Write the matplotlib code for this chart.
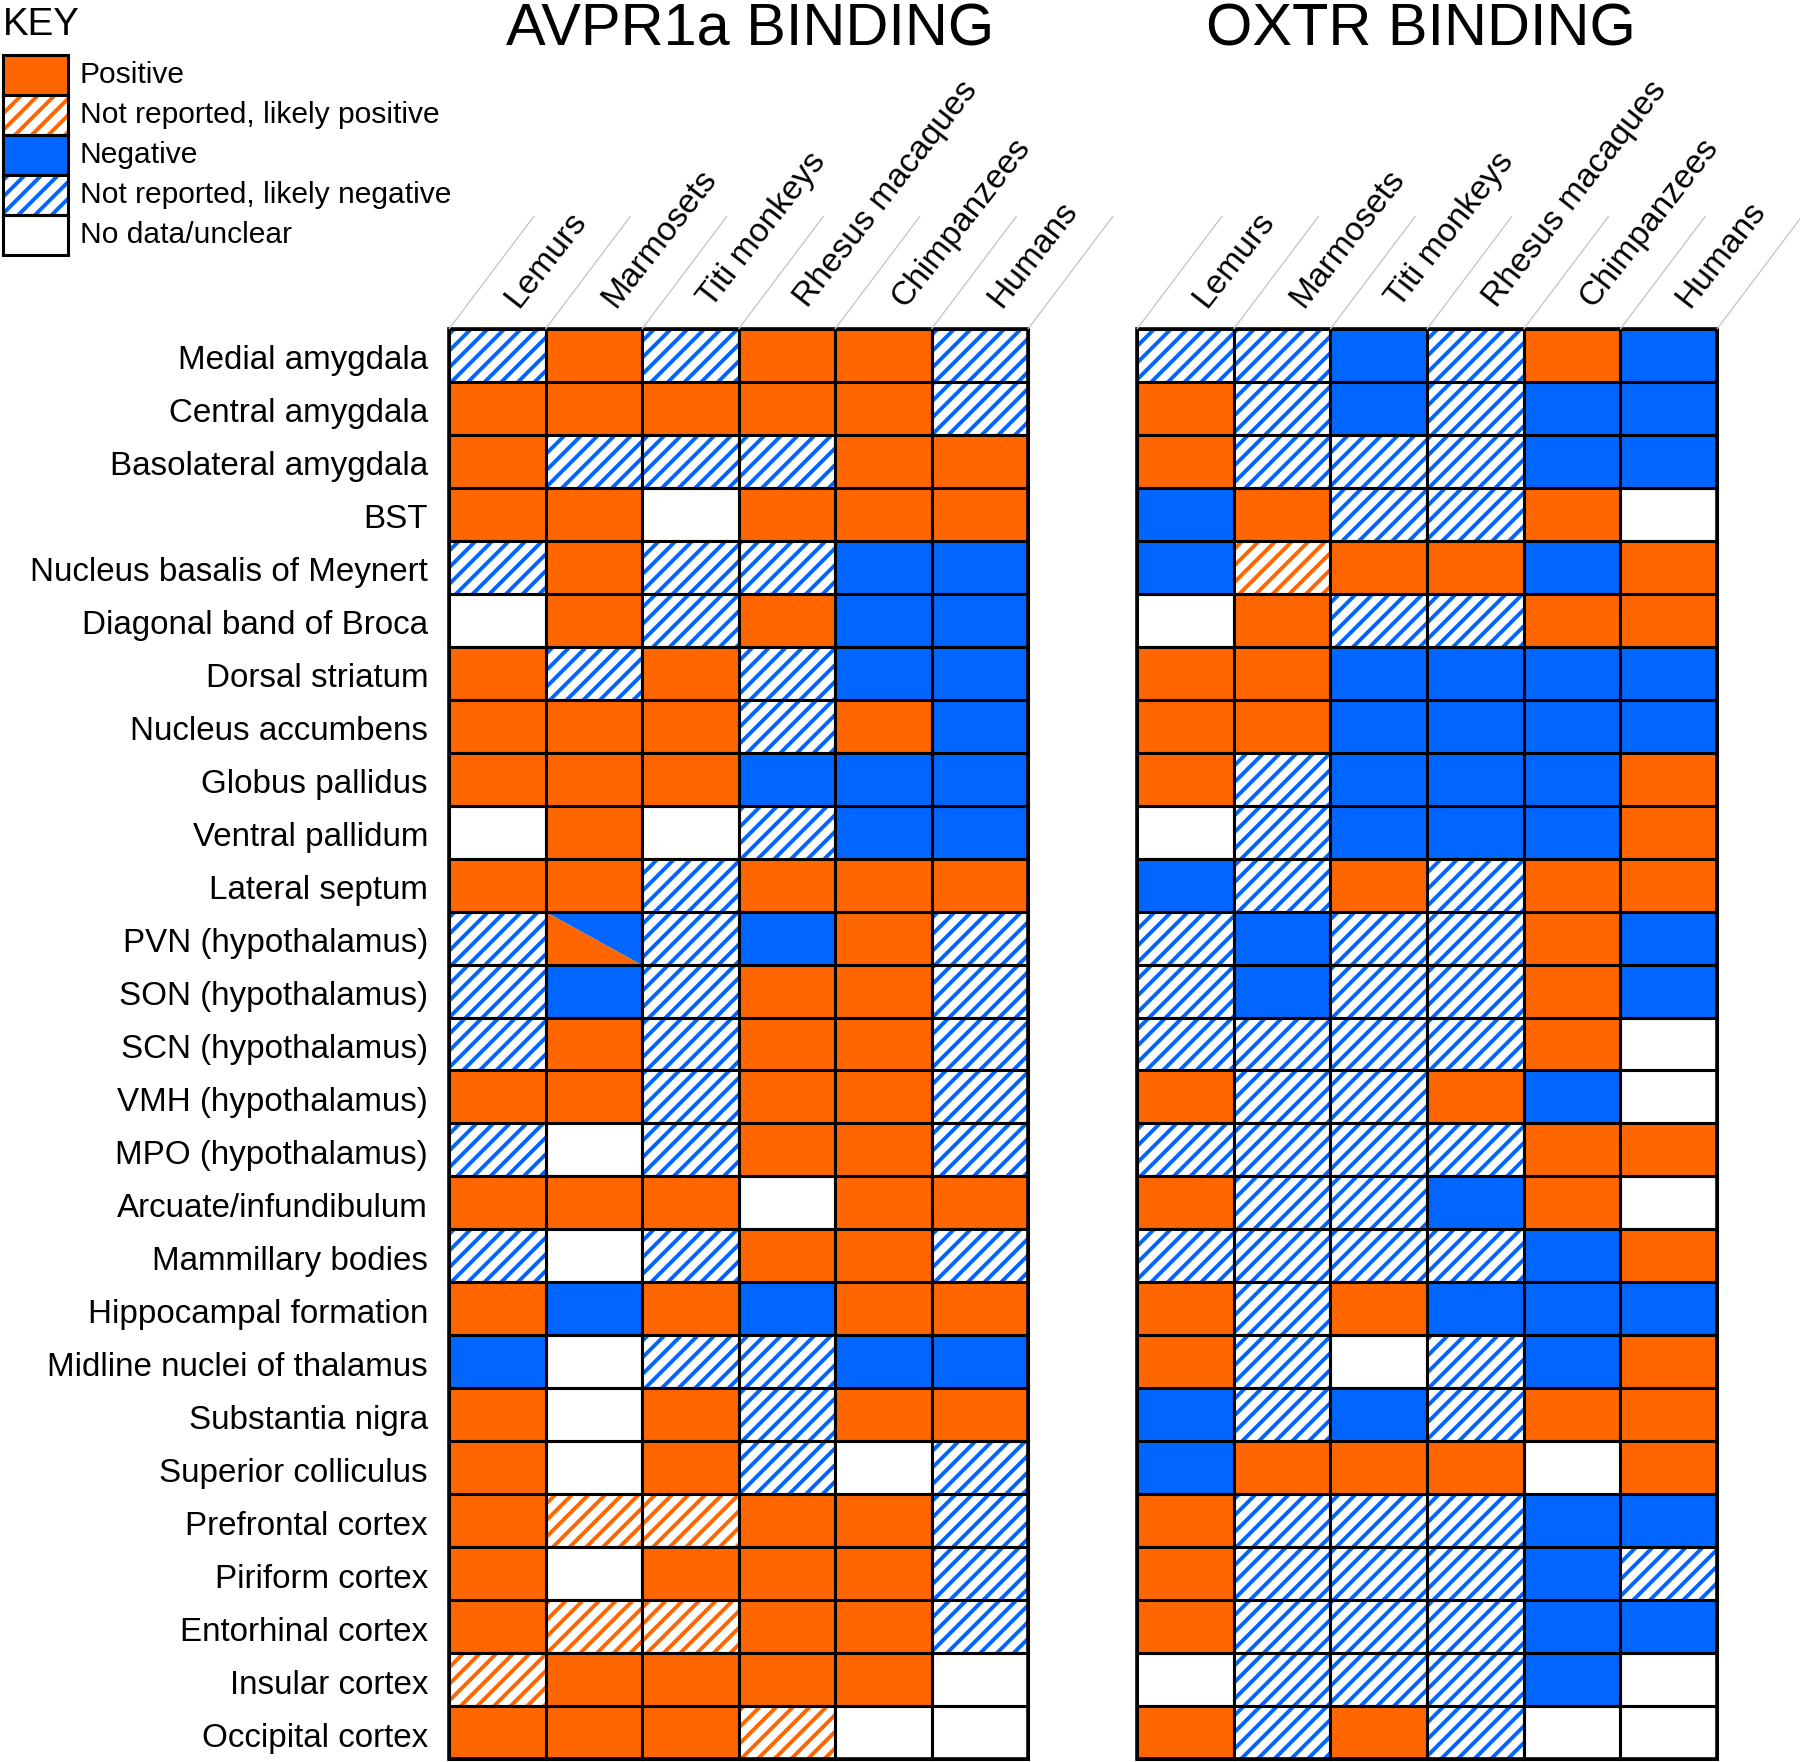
import numpy as np
import matplotlib.pyplot as plt
from matplotlib.patches import Rectangle, Polygon

plt.rcParams['font.family'] = ['Liberation Sans', 'DejaVu Sans']
plt.rcParams['hatch.linewidth'] = 2.8

species = ['Lemurs', 'Marmosets', 'Titi monkeys', 'Rhesus macaques', 'Chimpanzees', 'Humans']

regions = ['Medial amygdala', 'Central amygdala', 'Basolateral amygdala', 'BST',
           'Nucleus basalis of Meynert', 'Diagonal band of Broca', 'Dorsal striatum',
           'Nucleus accumbens', 'Globus pallidus', 'Ventral pallidum', 'Lateral septum',
           'PVN (hypothalamus)', 'SON (hypothalamus)', 'SCN (hypothalamus)',
           'VMH (hypothalamus)', 'MPO (hypothalamus)', 'Arcuate/infundibulum',
           'Mammillary bodies', 'Hippocampal formation', 'Midline nuclei of thalamus',
           'Substantia nigra', 'Superior colliculus', 'Prefrontal cortex',
           'Piriform cortex', 'Entorhinal cortex', 'Insular cortex', 'Occipital cortex']

# P positive, p likely positive, N negative, n likely negative, 0 no data, S split pos/neg
avpr1a = ['nPnPPn', 'PPPPPn', 'PnnnPP', 'PP0PPP', 'nPnnNN', '0PnPNN', 'PnPnNN',
          'PPPnPN', 'PPPNNN', '0P0nNN', 'PPnPPP', 'nSnNPn', 'nNnPPn', 'nPnPPn',
          'PPnPPn', 'n0nPPn', 'PPP0PP', 'n0nPPn', 'PNPNPP', 'N0nnNN', 'P0PnPP',
          'P0Pn0n', 'PppPPn', 'P0PPPn', 'PppPPn', 'pPPPP0', 'PPPp00']

oxtr = ['nnNnPN', 'PnNnNN', 'PnnnNN', 'NPnnP0', 'NpPPNP', '0PnnPP', 'PPNNNN',
        'PPNNNN', 'PnNNNP', '0nNNNP', 'NnPnPP', 'nNnnPN', 'nNnnPN', 'nnnnP0',
        'PnnPN0', 'nnnnPP', 'PnnNP0', 'nnnnNP', 'PnPNNN', 'Pn0nNP', 'NnNnPP',
        'NPPP0P', 'PnnnNN', 'PnnnNn', 'PnnnNN', '0nnnN0', 'PnPn00']

legend_codes = ['P', 'p', 'N', 'n', '0']
legend_labels = ['Positive', 'Not reported, likely positive', 'Negative',
                 'Not reported, likely negative', 'No data/unclear']

ORANGE = '#FF6600'
BLUE = '#0066FF'

fig = plt.figure(figsize=(18, 17.62), dpi=100)
ax = fig.add_axes([0, 0, 1, 1])
ax.set_xlim(0, 1800)
ax.set_ylim(1762, 0)
ax.axis('off')

PT = 0.72  # px -> pt at 100 dpi


def draw_cell(x, y, w, h, code):
    if code == 'P':
        ax.add_patch(Rectangle((x, y), w, h, facecolor=ORANGE, lw=0))
    elif code == 'N':
        ax.add_patch(Rectangle((x, y), w, h, facecolor=BLUE, lw=0))
    elif code == 'p':
        ax.add_patch(Rectangle((x, y), w, h, facecolor='white', edgecolor=ORANGE, hatch='//', lw=0))
    elif code == 'n':
        ax.add_patch(Rectangle((x, y), w, h, facecolor='white', edgecolor=BLUE, hatch='//', lw=0))
    elif code == 'S':
        ax.add_patch(Polygon([(x, y), (x, y + h), (x + w, y + h)], closed=True, facecolor=ORANGE, lw=0))
        ax.add_patch(Polygon([(x, y), (x + w, y), (x + w, y + h)], closed=True, facecolor=BLUE, lw=0))
    ax.add_patch(Rectangle((x, y), w, h, fill=False, edgecolor='black', lw=2.2))


top, bottom = 329, 1759
nrow = len(regions)
rh = (bottom - top) / nrow


def draw_grid(x0, x1, data, title, title_x):
    cw = (x1 - x0) / len(species)
    for i, row in enumerate(data):
        for j, c in enumerate(row):
            draw_cell(x0 + j * cw, top + i * rh, cw, rh, c)
    ax.add_patch(Rectangle((x0, top), x1 - x0, bottom - top, fill=False, edgecolor='black', lw=2.6))
    # slanted guide lines
    ang = np.deg2rad(53)
    dy = 113
    dx = dy / np.tan(ang)
    for j in range(len(species) + 1):
        xs = x0 + j * cw
        ax.plot([xs, xs + dx], [top, top - dy], color='#c8c8c8', lw=1.0, solid_capstyle='butt')
    for j, s in enumerate(species):
        ax.text(x0 + (j + 0.5) * cw + 21, top - 20, s, rotation=52, rotation_mode='anchor',
                ha='left', va='baseline', fontsize=33.5 * PT, color='black')
    ax.text(title_x, 46, title, ha='center', va='baseline', fontsize=59.5 * PT, color='black')


draw_grid(449, 1028, avpr1a, 'AVPR1a BINDING', 750)
draw_grid(1137, 1717, oxtr, 'OXTR BINDING', 1421)

for i, r in enumerate(regions):
    ax.text(428, top + (i + 0.5) * rh + 14, r, ha='right', va='baseline',
            fontsize=33.2 * PT, color='black')

# key
ax.text(3, 35, 'KEY', ha='left', va='baseline', fontsize=38.5 * PT, color='black')
for k, (c, lab) in enumerate(zip(legend_codes, legend_labels)):
    y = 55 + k * 40
    draw_cell(3, y, 65, 40, c)
    ax.text(80, y + 20 + 8, lab, ha='left', va='baseline', fontsize=30 * PT, color='black')

fig.savefig('out.png', dpi=100)
